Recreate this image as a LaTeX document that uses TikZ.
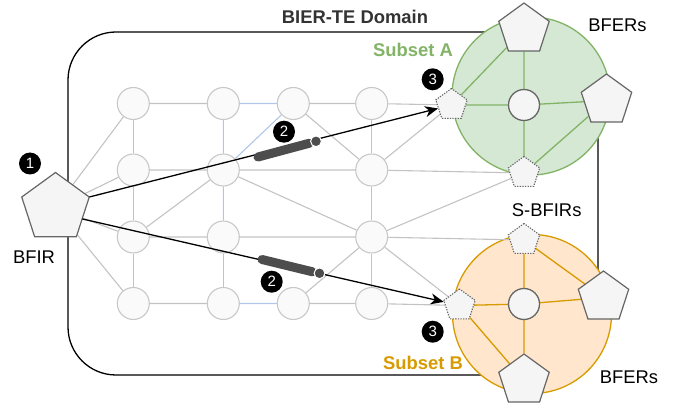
\documentclass[tikz,border=0pt]{standalone}
\usepackage{fontspec}
\setmainfont{Liberation Sans}
\usetikzlibrary{shapes.geometric,arrows.meta,calc}
\definecolor{gridfill}{HTML}{FAFAFA}
\definecolor{griddraw}{HTML}{C8C8C8}
\definecolor{grayedge}{HTML}{C3C3C3}
\definecolor{blueedge}{HTML}{B0C7E8}
\definecolor{pentfill}{HTML}{F5F5F5}
\definecolor{pentdraw}{HTML}{666666}
\definecolor{greenfill}{HTML}{D5E8D4}
\definecolor{greendraw}{HTML}{82B366}
\definecolor{orangefill}{HTML}{FFE6CC}
\definecolor{orangedraw}{HTML}{D79B00}
\definecolor{cablecol}{HTML}{4D4D4D}
\definecolor{titlecol}{HTML}{333333}
\tikzset{
  gnode/.style={circle,draw=griddraw,fill=gridfill,line width=1.1pt,minimum size=32pt,inner sep=0pt},
  cnode/.style={circle,draw=pentdraw,fill=pentfill,line width=1.3pt,minimum size=31pt,inner sep=0pt},
  bigpent/.style={regular polygon,regular polygon sides=5,draw=pentdraw,fill=pentfill,line width=1.2pt,minimum size=53pt,inner sep=0pt},
  smallpent/.style={regular polygon,regular polygon sides=5,draw=pentdraw,fill=pentfill,line width=1.1pt,dash pattern=on 1.3pt off 1.3pt,minimum size=33pt,inner sep=0pt},
  gedge/.style={draw=grayedge,line width=1.1pt},
  bedge/.style={draw=blueedge,line width=1.1pt},
  aedge/.style={draw=greendraw,line width=1.3pt},
  oedge/.style={draw=orangedraw,line width=1.3pt},
  arrowline/.style={draw=black,line width=1.3pt,-{Stealth[length=13pt,width=11pt,inset=4pt]}},
  badge/.style={circle,fill=black,minimum size=22pt,inner sep=0pt,text=white,font=\fontsize{15}{16}\selectfont},
  lbl/.style={inner sep=0pt,anchor=base,font=\fontsize{18.4}{22}\selectfont},
  blbl/.style={inner sep=0pt,anchor=base,font=\fontsize{18.4}{22}\selectfont\bfseries},
}
\begin{document}
\begin{tikzpicture}[x=1pt,y=-1pt]
\useasboundingbox (0,0) rectangle (678,406);
% domain box
\draw[line width=1.3pt,rounded corners=48pt] (68,32) rectangle (598,375);
% subset circles
\draw[draw=greendraw,fill=greenfill,line width=1.3pt] (531,96) circle (79);
\draw[draw=orangedraw,fill=orangefill,line width=1.3pt] (532,314) circle (79.5);
% node placeholders (for clipping edges)
\path
 (133.3,103.5) node[gnode,draw=none,fill=none] (r1a) {}
 (223.3,103.5) node[gnode,draw=none,fill=none] (r1b) {}
 (293.3,103.5) node[gnode,draw=none,fill=none] (r1c) {}
 (371.7,103.5) node[gnode,draw=none,fill=none] (r1d) {}
 (133.3,170) node[gnode,draw=none,fill=none] (r2a) {}
 (223.3,170) node[gnode,draw=none,fill=none] (r2b) {}
 (371.7,170) node[gnode,draw=none,fill=none] (r2d) {}
 (133.3,237) node[gnode,draw=none,fill=none] (r3a) {}
 (223.3,237) node[gnode,draw=none,fill=none] (r3b) {}
 (371.7,237) node[gnode,draw=none,fill=none] (r3d) {}
 (133.3,303.5) node[gnode,draw=none,fill=none] (r4a) {}
 (223.3,303.5) node[gnode,draw=none,fill=none] (r4b) {}
 (293.3,303.5) node[gnode,draw=none,fill=none] (r4c) {}
 (371.7,303.5) node[gnode,draw=none,fill=none] (r4d) {};
\node[regular polygon,regular polygon sides=5,minimum size=71pt,inner sep=0pt] (bfir) at (55.5,208) {};
\node[smallpent,draw=none,fill=none] (a3) at (451.5,105) {};
\node[smallpent,draw=none,fill=none] (sa) at (524,173) {};
\node[smallpent,draw=none,fill=none] (sb) at (524,240) {};
\node[smallpent,draw=none,fill=none] (b3) at (459.5,305.5) {};
\node[bigpent,draw=none,fill=none] (ta) at (524,29.5) {};
\node[bigpent,draw=none,fill=none] (ra) at (606.5,100.5) {};
\node[bigpent,draw=none,fill=none] (rb) at (603.5,297.5) {};
\node[bigpent,draw=none,fill=none] (bb) at (524,380.5) {};
\node[cnode,draw=none,fill=none] (ca) at (524,105) {};
\node[cnode,draw=none,fill=none] (cb) at (524,304) {};
% grid edges
\draw[gedge] (bfir)--(r1a) (bfir)--(r2a) (bfir)--(r3a) (bfir)--(r4a);
\draw[gedge] (r1a)--(r1b) (r1c)--(r1d) (r1d)--(a3);
\draw[bedge] (r1b)--(r1c) (r1b)--(r2b) (r1c)--(r2b) (r2b)--(r3b) (r4b)--(r4c);
\draw[gedge] (r1a)--(r2a) (r2a)--(r3a) (r3a)--(r4a);
\draw[gedge] (r3b)--(r4b) (r1d)--(r2d) (r2d)--(r3d) (r3d)--(r4d);
\draw[gedge] (r2a)--(r2b) (r2b)--(r2d) (r2d)--(sa) (r2d)--(a3);
\draw[gedge] (r3a)--(r3b) (r3b)--(r3d) (r3d)--(sb) (r3d)--(sa) (r3d)--(b3);
\draw[gedge] (r4a)--(r4b) (r4c)--(r4d) (r4d)--(b3);
\draw[gedge] (r3a)--(r2b) (r2b)--(r3d) (r1c)--(r2d) (r4c)--(r3d);
% subset edges
\draw[aedge] (ca)--(ta) (ca)--(ra) (ca)--(sa) (ca)--(a3) (a3)--(ta) (ra)--(sa);
\draw[oedge] (cb)--(sb) (cb)--(rb) (cb)--(bb) (cb)--(b3) (sb)--(rb) (b3)--(bb);
% visible nodes
\foreach \n in {r1a,r1b,r1c,r1d,r2a,r2b,r2d,r3a,r3b,r3d,r4a,r4b,r4c,r4d}
  \node[gnode] at (\n) {};
\node[regular polygon,regular polygon sides=5,minimum size=71pt,inner sep=0pt,draw=pentdraw,fill=pentfill,line width=1.2pt] at (bfir) {};
\foreach \n in {a3,sa,sb,b3} \node[smallpent] at (\n) {};
\foreach \n in {ta,ra,rb,bb} \node[bigpent] at (\n) {};
\foreach \n in {ca,cb} \node[cnode] at (\n) {};
% arrows
\coordinate (su) at (bfir.corner 5);
\coordinate (sl) at ($(bfir.corner 5)!0.55!(bfir.corner 4)$);
\draw[arrowline] (su) -- (a3);
\draw[arrowline] (sl) -- (b3);
% cables
\coordinate (c1s) at (258,157);
\coordinate (c1e) at (309.5,143.2);
\coordinate (c1k) at (316,141.3);
\draw[cablecol,line width=9pt,line cap=round] (c1s) -- (c1e);
\fill[cablecol,draw=white,line width=1pt] (c1k) circle (5.4);
\coordinate (c2s) at (262,259.5);
\coordinate (c2e) at (312.5,271.8);
\coordinate (c2k) at (319.5,273.3);
\draw[cablecol,line width=9pt,line cap=round] (c2s) -- (c2e);
\fill[cablecol,draw=white,line width=1pt] (c2k) circle (5.4);
% badges
\node[badge] (n1) at (30,163.5) {1};
\node[badge] (n2a) at (284,131.7) {2};
\node[badge] (n2b) at (271.7,281.7) {2};
\node[badge] (n3a) at (432.7,79.3) {3};
\node[badge] (n3b) at (432.7,331.7) {3};
% labels
\node[blbl,text=titlecol] (title) at (355,23.3) {BIER-TE Domain};
\node[blbl,text=greendraw] (suba) at (413,56.7) {Subset A};
\node[blbl,text=orangedraw] (subb) at (423,370) {Subset B};
\node[lbl] (bfera) at (617.5,31.7) {BFERs};
\node[lbl] (bferb) at (629,383.3) {BFERs};
\node[lbl] (sbfirs) at (546.7,216.7) {S-BFIRs};
\node[lbl] (bfirl) at (34,263.3) {BFIR};
\end{tikzpicture}
\end{document}
